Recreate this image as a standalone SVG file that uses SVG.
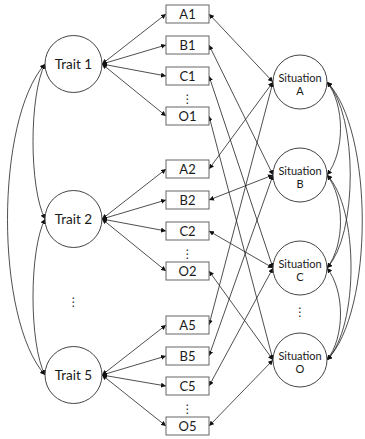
<svg xmlns="http://www.w3.org/2000/svg" width="365" height="439" viewBox="0 0 365 439">
<style>
.node circle{fill:#fff;stroke:#444;stroke-width:1}
.node rect{fill:#fff;stroke:#666;stroke-width:1}
text{font-family:Lato,"Liberation Sans",sans-serif;fill:#1a1a1a;text-anchor:middle}
.tr{font-size:13.5px}
.bx{font-size:13px}
.si{font-size:11px}
.dots{font-family:"DejaVu Sans",sans-serif;font-size:12px}
#connectors path,#connectors line{fill:none;stroke:#222;stroke-width:0.8;marker-start:url(#ah);marker-end:url(#ah)}
</style>
<defs>
<marker id="ah" viewBox="0 0 6 6" refX="6" refY="3" markerWidth="5" markerHeight="5" markerUnits="userSpaceOnUse" orient="auto-start-reverse">
<path d="M0,0 L6,3 L0,6 z" fill="#111"/>
</marker>
</defs>
<rect width="365" height="439" fill="#fff"/>
<g id="connectors">
<line x1="102" y1="64" x2="166" y2="14"/>
<line x1="102" y1="64" x2="166" y2="45"/>
<line x1="102" y1="64" x2="166" y2="76"/>
<line x1="102" y1="64" x2="166" y2="116"/>
<line x1="102" y1="219" x2="166" y2="169"/>
<line x1="102" y1="219" x2="166" y2="200"/>
<line x1="102" y1="219" x2="166" y2="231"/>
<line x1="102" y1="219" x2="166" y2="271"/>
<line x1="102" y1="375" x2="166" y2="325"/>
<line x1="102" y1="375" x2="166" y2="356"/>
<line x1="102" y1="375" x2="166" y2="386"/>
<line x1="102" y1="375" x2="166" y2="426"/>
<line x1="273" y1="82" x2="209" y2="14"/>
<line x1="273" y1="82" x2="209" y2="169"/>
<line x1="273" y1="82" x2="209" y2="325"/>
<line x1="273" y1="175" x2="209" y2="45"/>
<line x1="273" y1="175" x2="209" y2="200"/>
<line x1="273" y1="175" x2="209" y2="356"/>
<line x1="273" y1="268" x2="209" y2="76"/>
<line x1="273" y1="268" x2="209" y2="231"/>
<line x1="273" y1="268" x2="209" y2="386"/>
<line x1="273" y1="360" x2="209" y2="116"/>
<line x1="273" y1="360" x2="209" y2="271"/>
<line x1="273" y1="360" x2="209" y2="426"/>
<path d="M45,64 C29,95 29,188 45,219"/>
<path d="M45,219 C29,250 29,344 45,375"/>
<path d="M45,64 C-5,120 -5,319 45,375"/>
<path d="M327,82 C345,105 345,152 327,175"/>
<path d="M327,82 C358,115 358,235 327,268"/>
<path d="M327,82 C374,130 374,312 327,360"/>
<path d="M327,175 C345,198 345,245 327,268"/>
<path d="M327,175 C359,208 359,327 327,360"/>
<path d="M327,268 C345,291 345,337 327,360"/>
</g>
<g id="trait1" class="node"><circle cx="73.5" cy="64" r="28.5"/><text class="tr" x="73.5" y="68.5">Trait 1</text></g>
<g id="trait2" class="node"><circle cx="73.5" cy="219" r="28.5"/><text class="tr" x="73.5" y="223.5">Trait 2</text></g>
<g id="trait5" class="node"><circle cx="73.5" cy="375" r="28.5"/><text class="tr" x="73.5" y="379.5">Trait 5</text></g>
<g id="trait-dots"><text class="dots" x="73.5" y="306">⋮</text></g>
<g id="sitA" class="node"><circle cx="300" cy="82" r="27"/><text class="si" x="300" y="82">Situation</text><text class="si" x="300" y="94.5">A</text></g>
<g id="sitB" class="node"><circle cx="300" cy="175" r="27"/><text class="si" x="300" y="175">Situation</text><text class="si" x="300" y="187.5">B</text></g>
<g id="sitC" class="node"><circle cx="300" cy="268" r="27"/><text class="si" x="300" y="268">Situation</text><text class="si" x="300" y="280.5">C</text></g>
<g id="sitO" class="node"><circle cx="300" cy="360" r="27"/><text class="si" x="300" y="360">Situation</text><text class="si" x="300" y="372.5">O</text></g>
<g id="sit-dots"><text class="dots" x="300" y="316">⋮</text></g>
<g id="A1" class="node"><rect x="166" y="5" width="43" height="18"/><text class="bx" x="187.5" y="18.5">A1</text></g>
<g id="B1" class="node"><rect x="166" y="36" width="43" height="18"/><text class="bx" x="187.5" y="49.5">B1</text></g>
<g id="C1" class="node"><rect x="166" y="67" width="43" height="18"/><text class="bx" x="187.5" y="80.5">C1</text></g>
<g id="dots1"><text class="dots" x="187.5" y="103">⋮</text></g>
<g id="O1" class="node"><rect x="166" y="107" width="43" height="18"/><text class="bx" x="187.5" y="120.5">O1</text></g>
<g id="A2" class="node"><rect x="166" y="160" width="43" height="18"/><text class="bx" x="187.5" y="173.5">A2</text></g>
<g id="B2" class="node"><rect x="166" y="191" width="43" height="18"/><text class="bx" x="187.5" y="204.5">B2</text></g>
<g id="C2" class="node"><rect x="166" y="222" width="43" height="18"/><text class="bx" x="187.5" y="235.5">C2</text></g>
<g id="dots2"><text class="dots" x="187.5" y="258">⋮</text></g>
<g id="O2" class="node"><rect x="166" y="262" width="43" height="18"/><text class="bx" x="187.5" y="275.5">O2</text></g>
<g id="A5" class="node"><rect x="166" y="316" width="43" height="18"/><text class="bx" x="187.5" y="329.5">A5</text></g>
<g id="B5" class="node"><rect x="166" y="347" width="43" height="18"/><text class="bx" x="187.5" y="360.5">B5</text></g>
<g id="C5" class="node"><rect x="166" y="377" width="43" height="18"/><text class="bx" x="187.5" y="390.5">C5</text></g>
<g id="dots5"><text class="dots" x="187.5" y="413">⋮</text></g>
<g id="O5" class="node"><rect x="166" y="417" width="43" height="18"/><text class="bx" x="187.5" y="430.5">O5</text></g>
</svg>
